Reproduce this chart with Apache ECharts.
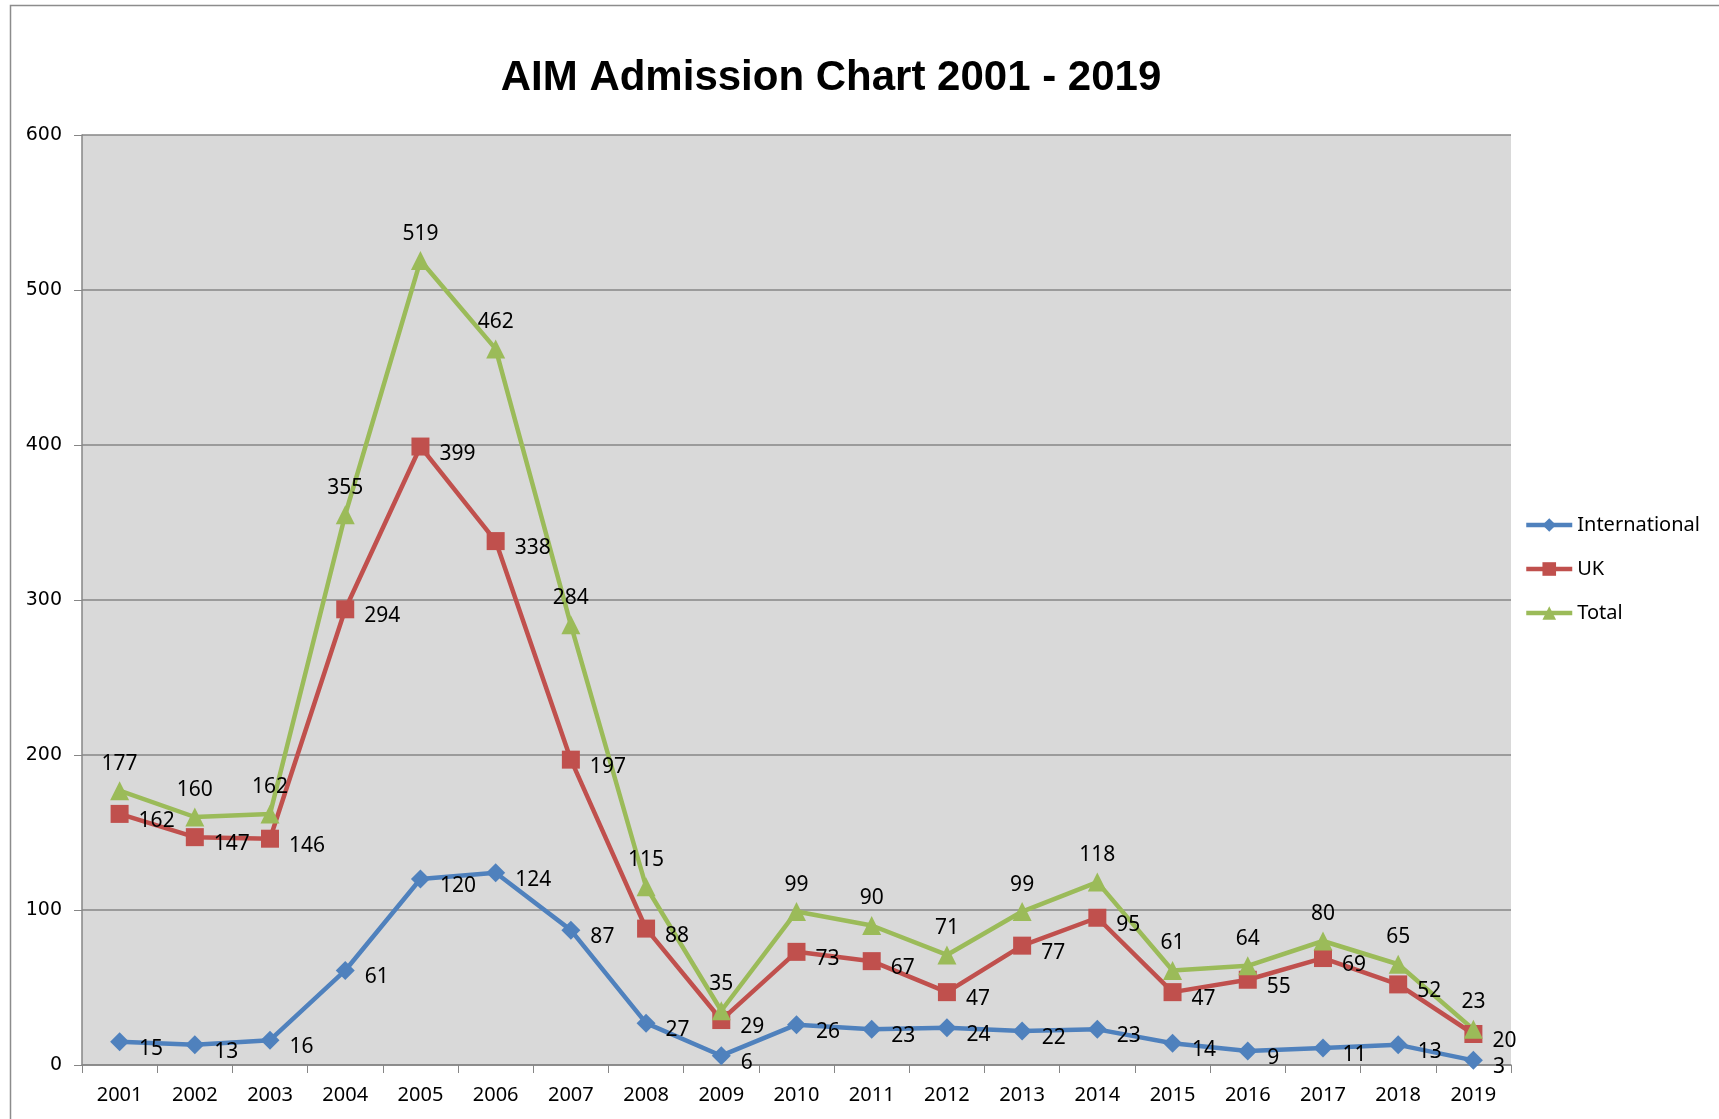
<!DOCTYPE html>
<html>
<head>
<meta charset="utf-8">
<script src="https://cdn.jsdelivr.net/npm/echarts@6/dist/echarts.min.js"></script>
<style>
  html, body { margin: 0; padding: 0; background: #fff; }
  #chart-wrap { width: 1719px; height: 1119px; }
</style>
</head>
<body>
<div id="chart-wrap"></div>
<script>
var years = ['2001','2002','2003','2004','2005','2006','2007','2008','2009','2010',
             '2011','2012','2013','2014','2015','2016','2017','2018','2019'];
var international = [15, 13, 16, 61, 120, 124, 87, 27, 6, 26, 23, 24, 22, 23, 14, 9, 11, 13, 3];
var uk = [162, 147, 146, 294, 399, 338, 197, 88, 29, 73, 67, 47, 77, 95, 47, 55, 69, 52, 20];
var total = [177, 160, 162, 355, 519, 462, 284, 115, 35, 99, 90, 71, 99, 118, 61, 64, 80, 65, 23];
var yTicks = [0, 100, 200, 300, 400, 500, 600];

var labelFont = 'Noto Sans';

function lineSeries(name, data, color, symbol, size, labelPos) {
  var lbl = {
    show: true,
    color: '#000',
    fontFamily: labelFont,
    fontSize: 21
  };
  if (labelPos === 'top') {
    lbl.position = 'top';
    lbl.distance = 7;
  } else {
    lbl.position = 'right';
    lbl.distance = 10;
    lbl.offset = [0, 7];
  }
  return {
    name: name,
    type: 'line',
    data: data,
    symbol: symbol,
    symbolSize: size,
    showAllSymbol: true,
    lineStyle: { color: color, width: 4.5 },
    itemStyle: { color: color },
    label: lbl,
    emphasis: { disabled: true },
    animation: false
  };
}

var myChart = echarts.init(document.getElementById('chart-wrap'));
var option = {
  backgroundColor: '#fff',
  animation: false,
  title: {
    text: 'AIM Admission Chart 2001 - 2019',
    left: 826,
    top: 52,
    textAlign: 'center',
    textStyle: {
      fontFamily: 'Liberation Sans',
      fontWeight: 'bold',
      fontSize: 42,
      color: '#000'
    }
  },
  graphic: [{
    type: 'rect',
    shape: { x: 10.5, y: 5.5, width: 1800, height: 1200 },
    style: { fill: 'none', stroke: '#8c8c8c', lineWidth: 1.5 },
    silent: true
  }],
  legend: {
    orient: 'vertical',
    left: 1519,
    top: 510,
    itemWidth: 46,
    itemHeight: 17,
    itemGap: 24,
    data: ['International', 'UK', 'Total'],
    lineStyle: { width: 4.5 },
    textStyle: { fontFamily: labelFont, fontSize: 20, color: '#000' }
  },
  grid: {
    left: 82,
    right: 208,
    top: 135,
    bottom: 54,
    show: true,
    backgroundColor: '#d9d9d9',
    borderWidth: 0
  },
  xAxis: {
    type: 'category',
    data: years,
    boundaryGap: true,
    axisLine: { lineStyle: { color: '#868686', width: 1.5 } },
    axisTick: { show: true, length: 8, interval: 0, lineStyle: { color: '#868686' } },
    axisLabel: { interval: 0, margin: 20, fontFamily: labelFont, fontSize: 20, color: '#000' },
    splitLine: { show: false }
  },
  yAxis: {
    type: 'value',
    min: yTicks[0],
    max: yTicks[yTicks.length - 1],
    interval: 100,
    axisLine: { show: true, lineStyle: { color: '#868686', width: 1.5 } },
    axisTick: { show: true, length: 8, lineStyle: { color: '#868686' } },
    axisLabel: { margin: 20, fontFamily: 'DejaVu Sans', fontSize: 19, color: '#000' },
    splitLine: { show: true, lineStyle: { color: '#868686', width: 1.5 } }
  },
  series: [
    lineSeries('International', international, '#4f81bd', 'diamond', 19, 'right'),
    lineSeries('UK', uk, '#c0504d', 'rect', 18, 'right'),
    lineSeries('Total', total, '#9bbb59', 'triangle', 19, 'top')
  ]
};
myChart.setOption(option);
</script>
</body>
</html>
